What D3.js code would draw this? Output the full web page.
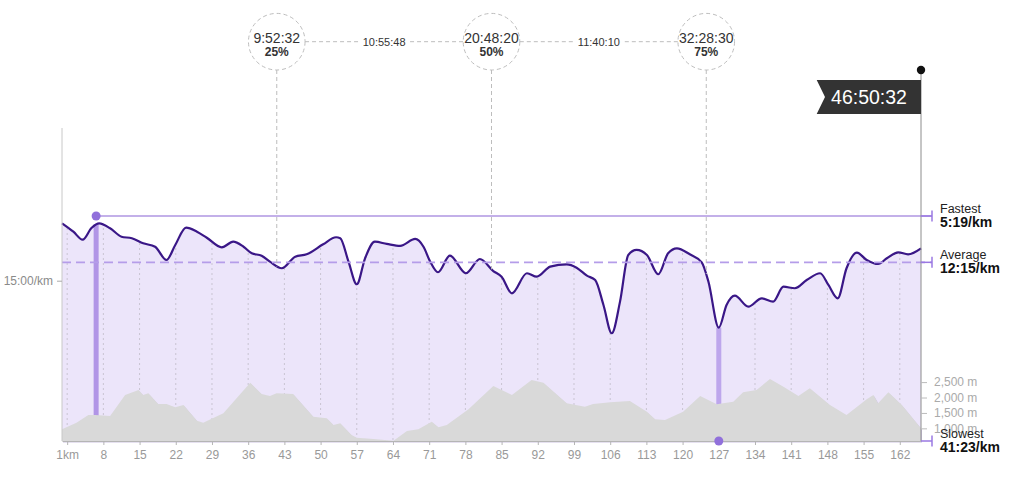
<!DOCTYPE html>
<html><head><meta charset="utf-8">
<script src="https://cdn.jsdelivr.net/npm/d3@7"></script>
<style>
html,body{margin:0;padding:0;background:#fff;}
svg{display:block;font-family:"Liberation Sans",Arial,Helvetica,sans-serif;}
</style></head><body>
<svg id="chart" width="1024" height="479"></svg>
<script>
// ---- data ----
const paceKm = [0,2.2,4.0,5.7,7.2,9.3,11.5,13.5,15.7,18.0,20.2,21.9,24.0,26.1,28.0,30.9,33.1,35.1,36.7,38.6,40.2,42.5,45.1,47.3,50.5,53.0,53.8,55.4,57.0,58.6,60.5,62.8,65.4,68.3,69.9,71.2,72.7,75.0,78.1,80.8,83.4,85.0,87.0,89.9,91.8,94.4,97.6,99.5,101.5,103.1,104.7,106.3,107.9,109.5,111.1,113.1,115.3,117.2,118.9,121.4,123.7,125.0,127.0,128.5,130.1,132.7,135.3,137.5,139.5,141.7,144.0,146.6,148.2,150.0,151.7,153.7,155.6,157.8,159.5,161.7,163.6,166.1];
const paceSec = [385,460,532,427,385,429,505,519,564,595,714,579,424,460,514,600,550,595,654,675,729,788,684,663,573,510,519,729,932,699,550,570,588,525,595,729,824,675,833,705,813,864,1013,833,864,774,753,783,855,894,1118,1372,1088,669,624,669,842,654,609,663,735,909,1322,1118,1034,1133,1058,1088,954,968,894,833,938,1058,788,648,714,750,699,645,663,609];
const elevKm = [0,2.8,5.1,6.4,9.3,12.2,14.8,15.7,16.7,18.6,20.2,21.9,23.5,26.1,27.3,31.2,36.4,38.6,40.2,41.5,44.7,48.6,51.2,52.5,53.8,56.0,57.0,60.2,64.1,66.7,68.9,71.5,72.8,74.4,78.6,83.4,87.0,90.8,93.1,97.6,101.1,102.7,106.0,109.8,113.1,114.7,116.6,120.1,123.4,126.6,129.8,131.7,134.3,136.9,139.5,142.4,144.6,148.5,151.7,155.6,156.9,157.8,159.8,162.4,166.1];
const elevM = [968,1182,1432,1432,1399,2081,2244,2081,2136,1789,1789,1682,1757,1247,1182,1487,2481,2114,2049,2136,2114,1377,1325,1107,1162,782,695,653,597,912,968,1214,1032,1107,1617,2373,2081,2568,2481,1812,1701,1789,1844,1886,1539,1292,1270,1539,2049,1779,1864,2169,2244,2601,2351,2049,2299,1757,1432,1942,2081,1812,2169,1757,1000];
const kmTicks = [1,8,15,22,29,36,43,50,57,64,71,78,85,92,99,106,113,120,127,134,141,148,155,162];
const paceTicks = [900];
const elevTicks = [1000,1500,2000,2500];
const quarterPct = [25,50,75];
const quarterTime = ["9:52:32","20:48:20","32:28:30"];
const splitTime = ["10:55:48","11:40:10"];
const finishTime = "46:50:32";
const totalKm = 166.1;
const markerNames = ["Fastest","Average","Slowest"];
const markerSec = [319,735,2483];
const markerLabel = ["5:19/km","12:15/km","41:23/km"];
const fastestKm = 6.6, slowestKm = 127.0;

// ---- layout ----
const L = 62, R = 921, B = 441, T = 128;
const svg = d3.select("#chart");
const x = d3.scaleLinear().domain([0,totalKm]).range([L,R]);
const y = d3.scaleLinear().domain([319,900]).range([216,280.7]);
const yE = d3.scaleLinear().domain([590,2500]).range([B,382.1]);
const yc = s => Math.min(B, y(s));
const fmtPace = s => `${Math.floor(s/60)}:${String(s%60).padStart(2,"0")}/km`;

const pace = paceKm.map((k,i)=>({km:k, sec:paceSec[i]}));
const elev = elevKm.map((k,i)=>({km:k, m:elevM[i]}));

const paceArea = d3.area().x(d=>x(d.km)).y0(B).y1(d=>y(d.sec)).curve(d3.curveMonotoneX);
const paceLine = d3.line().x(d=>x(d.km)).y(d=>y(d.sec)).curve(d3.curveMonotoneX);
const elevArea = d3.area().x(d=>x(d.km)).y0(B).y1(d=>yE(d.m));

const defs = svg.append("defs");
defs.append("clipPath").attr("id","paceClip").append("path").attr("d", paceArea(pace));

svg.append("path").attr("d", paceArea(pace)).attr("fill","#ece5fa");

// hidden line for lookup
const lookup = svg.append("path").attr("d", paceLine(pace)).attr("fill","none").attr("stroke","none").node();
const totalLen = lookup.getTotalLength();
function yAtKm(km){
  const tx = x(km); let lo=0, hi=totalLen;
  for(let i=0;i<40;i++){ const mid=(lo+hi)/2; const p=lookup.getPointAtLength(mid); if(p.x<tx) lo=mid; else hi=mid; }
  return lookup.getPointAtLength((lo+hi)/2).y;
}

// gridlines clipped to pace area
svg.append("g").attr("clip-path","url(#paceClip)").selectAll("line").data(kmTicks).join("line")
  .attr("x1",d=>x(d)).attr("x2",d=>x(d)).attr("y1",T).attr("y2",B)
  .attr("stroke","#c9c4d2").attr("stroke-dasharray","2,3").attr("stroke-width",1);

// fastest / slowest bars
svg.append("line").attr("x1",x(fastestKm)).attr("x2",x(fastestKm)).attr("y1",yAtKm(fastestKm)).attr("y2",B)
  .attr("stroke","#b195e6").attr("stroke-width",5);
svg.append("line").attr("x1",x(slowestKm)).attr("x2",x(slowestKm)).attr("y1",yAtKm(slowestKm)).attr("y2",B)
  .attr("stroke","#bda6ec").attr("stroke-width",5);

// elevation
svg.append("path").attr("d", elevArea(elev)).attr("fill","#b9acd6").attr("opacity",0.7).attr("transform","translate(1,1.5)");
svg.append("path").attr("d", elevArea(elev)).attr("fill","#d9d9d9");

// pace line
svg.append("path").attr("d", paceLine(pace)).attr("fill","none").attr("stroke","#3a1787").attr("stroke-width",2.2);

// average dashed
svg.append("line").attr("x1",L).attr("x2",932).attr("y1",y(markerSec[1])).attr("y2",y(markerSec[1]))
  .attr("stroke","#b59de9").attr("stroke-width",1.6).attr("stroke-dasharray","9,5");
// fastest line
svg.append("line").attr("x1",x(fastestKm)).attr("x2",932).attr("y1",y(markerSec[0])).attr("y2",y(markerSec[0]))
  .attr("stroke","#8762d4").attr("stroke-width",1.2);
svg.append("circle").attr("cx",x(fastestKm)).attr("cy",y(markerSec[0])).attr("r",4.5).attr("fill","#9170db");

// left axis
svg.append("line").attr("x1",L).attr("x2",L).attr("y1",T).attr("y2",B).attr("stroke","#c8c8c8");
const ax = svg.append("g").attr("transform",`translate(${L},0)`)
  .call(d3.axisLeft(y).tickValues(paceTicks).tickSize(5).tickPadding(4).tickFormat(fmtPace));
ax.select(".domain").remove();
ax.selectAll("line").attr("stroke","#aaa");
ax.selectAll("text").attr("fill","#8a8a8a").style("font-size","12px").style("font-family","inherit");

// bottom axis
const bx = svg.append("g").attr("transform",`translate(0,${B})`)
  .call(d3.axisBottom(x).tickValues(kmTicks).tickSize(4).tickSizeOuter(0).tickPadding(5).tickFormat(d=>d===1?"1km":d));
bx.select(".domain").attr("stroke","#b5b5b5");
bx.selectAll("line").attr("stroke","#b5b5b5");
bx.selectAll("text").attr("fill","#999").style("font-size","12px").style("font-family","inherit");

// right vertical line + elevation axis
svg.append("line").attr("x1",R).attr("x2",R).attr("y1",70).attr("y2",B).attr("stroke","#8c8c8c");
const ex = svg.append("g").attr("transform",`translate(${R},0)`)
  .call(d3.axisRight(yE).tickValues(elevTicks).tickSize(6).tickPadding(7).tickFormat(d=>d3.format(",")(d)+" m"));
ex.select(".domain").remove();
ex.selectAll("line").attr("stroke","#bbb");
ex.selectAll("text").attr("fill","#aaa").style("font-size","12px").style("font-family","inherit");

// slowest dot
svg.append("circle").attr("cx",x(slowestKm)).attr("cy",B).attr("r",4.5).attr("fill","#9170db");

// right markers
markerSec.forEach((s,i)=>{
  const yy = yc(s);
  const g = svg.append("g");
  g.append("line").attr("x1",R).attr("x2",932).attr("y1",yy).attr("y2",yy).attr("stroke","#9a78e2").attr("stroke-width",1.5);
  g.append("line").attr("x1",932).attr("x2",932).attr("y1",yy-5.5).attr("y2",yy+5.5).attr("stroke","#9a78e2").attr("stroke-width",1.5);
  g.append("text").attr("x",940).attr("y",yy-3.5).text(markerNames[i]).attr("fill","#222").style("font-size","12.5px");
  g.append("text").attr("x",940).attr("y",yy+11).text(markerLabel[i]).attr("fill","#111").style("font-size","14px").style("font-weight","600");
});

// finish flag
svg.append("polygon").attr("points",[[816.7,80],[R,80],[R,114],[816.7,114],[825,97]].map(p=>p.join(",")).join(" ")).attr("fill","#333");
svg.append("text").attr("x",869).attr("y",104).attr("text-anchor","middle").attr("fill","#fff").style("font-size","19.5px").text(finishTime);
svg.append("circle").attr("cx",R).attr("cy",70).attr("r",4.2).attr("fill","#111");

// quarter markers
const qx = quarterPct.map(p=>x(totalKm*p/100));
const cy = 41.7, cr = 28.3;
qx.forEach((cx,i)=>{
  svg.append("line").attr("x1",cx).attr("x2",cx).attr("y1",cy+cr).attr("y2",yAtKm(totalKm*quarterPct[i]/100))
    .attr("stroke","#bdbdbd").attr("stroke-dasharray","4,3");
});
for(let i=0;i<qx.length-1;i++){
  svg.append("line").attr("x1",qx[i]+cr).attr("x2",qx[i+1]-cr).attr("y1",cy).attr("y2",cy)
    .attr("stroke","#bdbdbd").attr("stroke-dasharray","4,3");
  const mx = (qx[i]+qx[i+1])/2;
  svg.append("rect").attr("x",mx-24).attr("y",cy-8).attr("width",48).attr("height",14).attr("fill","#fff");
  svg.append("text").attr("x",mx).attr("y",cy+4.5).attr("text-anchor","middle").attr("fill","#333").style("font-size","11px").text(splitTime[i]);
}
qx.forEach((cx,i)=>{
  svg.append("circle").attr("cx",cx).attr("cy",cy).attr("r",cr).attr("fill","#fff").attr("fill-opacity",0)
    .attr("stroke","#bdbdbd").attr("stroke-dasharray","4,3");
  svg.append("text").attr("x",cx).attr("y",cy+1).attr("text-anchor","middle").attr("fill","#333").style("font-size","14px").text(quarterTime[i]);
  svg.append("text").attr("x",cx).attr("y",cy+14).attr("text-anchor","middle").attr("fill","#333").style("font-size","12px").style("font-weight","bold").text(quarterPct[i]+"%");
});
</script>
</body></html>
